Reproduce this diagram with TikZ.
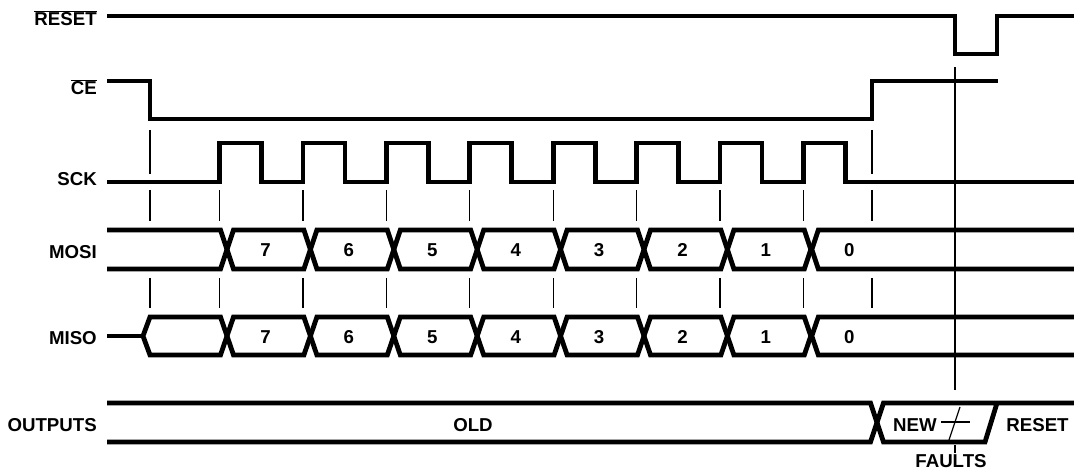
\documentclass[tikz,border=0pt]{standalone}
\usepackage{fontspec}
\setmainfont{Liberation Sans}
\usetikzlibrary{positioning}

\begin{document}
\begin{tikzpicture}[
  x=0.75pt, y=-0.75pt,
  wave/.style={line width=3.6pt, miter limit=1.5},
  guide/.style={line width=0.9pt},
  every node/.style={font=\fontsize{14}{16}\selectfont\bfseries, inner sep=0pt, anchor=base},
  signame/.style={anchor=base east}
]
\useasboundingbox (0,0) rectangle (1074,470);
\node[signame] (reset) at (97,26) {$\overline{\mbox{RESET}}$};
\node[signame] (ce) at (97,95) {$\overline{\mbox{CE}}$};
\node[signame] (sck) at (97,186) {SCK};
\node[signame] (mosi) at (97,258) {MOSI};
\node[signame] (miso) at (97,344) {MISO};
\node[signame] (outputs) at (97,431) {OUTPUTS};

\draw[wave] (107,16) -- (955,16) -- (955,54) -- (997,54) -- (997,16) -- (1074,16);
\draw[wave] (107,81) -- (150,81) -- (150,119) -- (872,119) -- (872,81) -- (998,81);
\draw[wave] (107,182) foreach \k in {0,...,7} {
  -- ({219.5+83.4*\k},182) -- ++(0,-39) -- ++(42,0) -- ++(0,39)} -- (1074,182);

\foreach \x in {150,872}
  \draw[guide] (\x,130) -- (\x,174);
\foreach \x in {150,219.5,302.9,386.3,469.7,553.1,636.5,719.9,803.3,872} {
  \draw[guide] (\x,190) -- (\x,221);
  \draw[guide] (\x,278) -- (\x,308);
}

\draw[wave] (107,230) -- (220.5,230) -- (227,249.5) -- (220.5,269) -- (107,269);
\draw[wave] (1074,230) -- (818.3,230) -- (811.8,249.5) -- (818.3,269) -- (1074,269);
\draw[wave] (107,336) -- (143,336);
\draw[wave] (143,336) -- (150,317) -- (220.5,317) -- (227,336) -- (220.5,355) -- (150,355) -- cycle;
\draw[wave] (1074,317) -- (818.3,317) -- (811.8,336) -- (818.3,355) -- (1074,355);
\foreach \k [evaluate=\k as \c using 227+83.4*\k,
             evaluate=\k as \n using 227+83.4*(\k+1)] in {0,...,6} {
  \draw[wave] (\c,249.5) -- (\c+6.5,230) -- (\n-6.5,230) -- (\n,249.5) -- (\n-6.5,269) -- (\c+6.5,269) -- cycle;
  \draw[wave] (\c,336) -- (\c+6.5,317) -- (\n-6.5,317) -- (\n,336) -- (\n-6.5,355) -- (\c+6.5,355) -- cycle;
}
\foreach \b [count=\k from 0] in {7,6,...,0} {
  \node (mosi\b) at ({265.5+83.4*\k},257) {\b};
  \node (miso\b) at ({265.5+83.4*\k},343) {\b};
}

\draw[wave] (107,403) -- (870.5,403) -- (877,422.5) -- (870.5,442) -- (107,442);
\draw[wave] (1074,403) -- (883.5,403) -- (877,422.5) -- (883.5,442) -- (985,442) -- (997,403);
\node (old) at (473,431) {OLD};
\node (new) at (915,431) {NEW};
\node (rst) at (1037.5,431) {RESET};
\node (faults) at (951,467) {FAULTS};

\draw[guide] (955,67) -- (955,390);
\draw[guide] (955,445) -- (955,453);
\draw[guide] (941,422) -- (970,422);
\draw[guide] (949,440) -- (960,407);
\end{tikzpicture}
\end{document}
